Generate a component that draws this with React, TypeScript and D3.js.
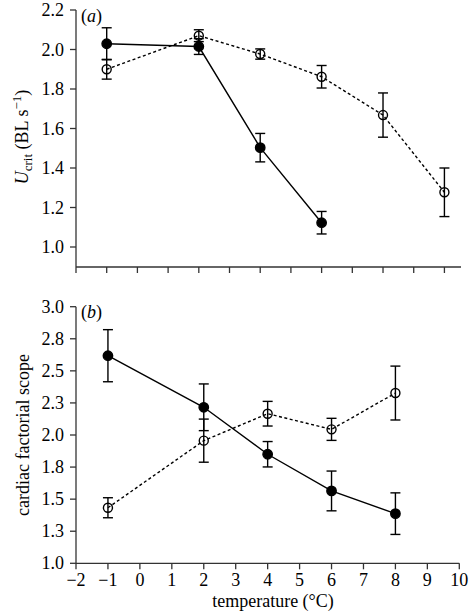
import React from "react";
import * as d3 from "d3";

// Panel (a): Ucrit
const tempAOpen = [-1, 2, 4, 6, 8, 10];
const ucritOpen = [1.9, 2.07, 1.977, 1.862, 1.668, 1.277];
const ucritOpenErr = [0.05, 0.03, 0.026, 0.057, 0.112, 0.123];
const tempAFilled = [-1, 2, 4, 6];
const ucritFilled = [2.029, 2.015, 1.503, 1.123];
const ucritFilledErr = [0.081, 0.04, 0.072, 0.057];
const ucritTicks = [1.0, 1.2, 1.4, 1.6, 1.8, 2.0, 2.2];
const tempATicks = [-2, -1, 0, 1, 2, 3, 4, 5, 6, 7, 8, 9, 10];

// Panel (b): cardiac factorial scope
const tempB = [-1, 2, 4, 6, 8];
const scopeFilled = [2.618, 2.216, 1.85, 1.564, 1.387];
const scopeFilledErr = [0.203, 0.182, 0.099, 0.155, 0.162];
const scopeOpen = [1.433, 1.956, 2.166, 2.044, 2.327];
const scopeOpenErr = [0.078, 0.168, 0.096, 0.086, 0.21];
const scopeTicks = [1.0, 1.25, 1.5, 1.75, 2.0, 2.25, 2.5, 2.75, 3.0];
const scopeTickLabels = ["1.0", "1.3", "1.5", "1.8", "2.0", "2.3", "2.5", "2.8", "3.0"];
const tempBTicks = [-2, -1, 0, 1, 2, 3, 4, 5, 6, 7, 8, 9, 10];

const FONT = '"Liberation Serif", "Times New Roman", "DejaVu Serif", serif';
const AX = "#333";
const LW = 1.4;

type S = { xs: number[]; ys: number[]; es: number[]; open: boolean };

function Series({ s, x, y }: { s: S; x: any; y: any }) {
  const line = d3
    .line<number>()
    .x((_, i) => x(s.xs[i]))
    .y((d) => y(d));
  const cap = 5;
  return (
    <g>
      {s.ys.map((v, i) => {
        const cx = x(s.xs[i]);
        const t = y(v + s.es[i]);
        const b = y(v - s.es[i]);
        return (
          <g key={"e" + i} stroke="#000" strokeWidth={LW}>
            <line x1={cx} x2={cx} y1={t} y2={b} />
            <line x1={cx - cap} x2={cx + cap} y1={t} y2={t} />
            <line x1={cx - cap} x2={cx + cap} y1={b} y2={b} />
          </g>
        );
      })}
      <path
        d={line(s.ys) || ""}
        fill="none"
        stroke="#000"
        strokeWidth={LW}
        strokeDasharray={s.open ? "3,2.5" : undefined}
      />
      {s.ys.map((v, i) => (
        <circle
          key={"c" + i}
          cx={x(s.xs[i])}
          cy={y(v)}
          r={s.open ? 4.5 : 4.7}
          fill={s.open ? "#fff" : "#000"}
          fillOpacity={s.open ? 0 : 1}
          stroke="#000"
          strokeWidth={LW}
        />
      ))}
    </g>
  );
}

export default function App() {
  const W = 470;
  const H = 612;
  const axX = 76;

  const xA = d3.scaleLinear().domain([-2, 10.54]).range([axX, 461]);
  const yA = d3.scaleLinear().domain([1.0, 2.2]).range([247, 10]);
  const aBottom = 267;

  const xB = d3.scaleLinear().domain([-2, 10]).range([axX, 459.3]);
  const yB = d3.scaleLinear().domain([1.0, 3.0]).range([563.3, 306.7]);
  const bBottom = 563.3;

  const fs = 18;
  const ts: React.CSSProperties = { fontFamily: FONT, fontSize: fs };

  return (
    <svg
      width={W}
      height={H}
      style={{ position: "absolute", left: 0, top: 0, background: "#fff", fontFamily: FONT }}
    >
      {/* Panel a axes */}
      <g stroke={AX} strokeWidth={1.3} fill="none">
        <line x1={axX} x2={axX} y1={yA(2.2)} y2={aBottom} />
        <line x1={axX} x2={461} y1={aBottom} y2={aBottom} />
        {ucritTicks.map((t) => (
          <line key={"ya" + t} x1={axX - 6} x2={axX} y1={yA(t)} y2={yA(t)} />
        ))}
        {tempATicks.map((t) => (
          <line key={"xa" + t} x1={xA(t)} x2={xA(t)} y1={aBottom} y2={aBottom + 6} />
        ))}
      </g>
      <g textAnchor="end" fill="#000">
        {ucritTicks.map((t) => (
          <text key={"yl" + t} x={64} y={yA(t)} dy="0.34em" style={ts}>
            {t.toFixed(1)}
          </text>
        ))}
      </g>
      <text x={81} y={22} style={ts}>
        (<tspan fontStyle="italic">a</tspan>)
      </text>
      <text
        transform={`translate(28,${137}) rotate(-90)`}
        textAnchor="middle"
        style={ts}
      >
        <tspan fontStyle="italic">U</tspan>
        <tspan fontSize={13} dy="4">crit</tspan>
        <tspan dy="-4"> (BL s</tspan>
        <tspan fontSize={13} dy="-7">−1</tspan>
        <tspan dy="7">)</tspan>
      </text>
      <Series s={{ xs: tempAOpen, ys: ucritOpen, es: ucritOpenErr, open: true }} x={xA} y={yA} />
      <Series s={{ xs: tempAFilled, ys: ucritFilled, es: ucritFilledErr, open: false }} x={xA} y={yA} />

      {/* Panel b axes */}
      <g stroke={AX} strokeWidth={1.3} fill="none">
        <line x1={axX} x2={axX} y1={yB(3.0)} y2={bBottom} />
        <line x1={axX} x2={459.3} y1={bBottom} y2={bBottom} />
        {scopeTicks.map((t) => (
          <line key={"yb" + t} x1={axX - 6} x2={axX} y1={yB(t)} y2={yB(t)} />
        ))}
        {tempBTicks.map((t) => (
          <line key={"xb" + t} x1={xB(t)} x2={xB(t)} y1={bBottom} y2={bBottom + 6} />
        ))}
      </g>
      <g textAnchor="end" fill="#000">
        {scopeTicks.map((t, i) => (
          <text key={"ybl" + t} x={64} y={yB(t)} dy="0.34em" style={ts}>
            {scopeTickLabels[i]}
          </text>
        ))}
      </g>
      <g textAnchor="middle" fill="#000">
        {tempBTicks.map((t) => (
          <text key={"xbl" + t} x={xB(t)} y={586} style={ts}>
            {t < 0 ? "−" + Math.abs(t) : String(t)}
          </text>
        ))}
      </g>
      <text x={81} y={318} style={ts}>
        (<tspan fontStyle="italic">b</tspan>)
      </text>
      <text
        transform={`translate(29,${435}) rotate(-90)`}
        textAnchor="middle"
        style={ts}
      >
        cardiac factorial scope
      </text>
      <text x={273} y={607} textAnchor="middle" style={ts}>
        temperature (°C)
      </text>
      <Series s={{ xs: tempB, ys: scopeOpen, es: scopeOpenErr, open: true }} x={xB} y={yB} />
      <Series s={{ xs: tempB, ys: scopeFilled, es: scopeFilledErr, open: false }} x={xB} y={yB} />
    </svg>
  );
}
